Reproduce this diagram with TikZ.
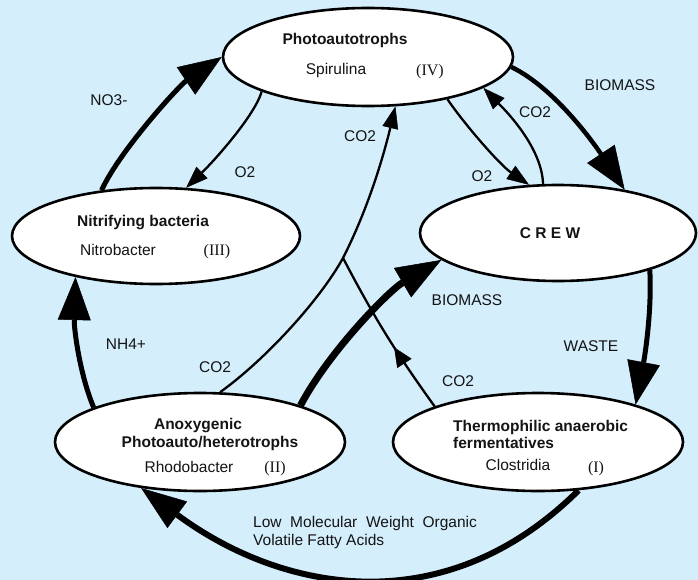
\documentclass[tikz,border=0pt]{standalone}
\usepackage{fontspec}
\setmainfont{Liberation Sans}
\newfontfamily\romanfont{Liberation Serif}
\usetikzlibrary{arrows.meta,shapes.geometric,decorations.markings}
\definecolor{bgblue}{RGB}{212,238,252}
\definecolor{ink}{RGB}{20,20,20}
\begin{document}
\begin{tikzpicture}[x=1pt,y=-1pt,
  org/.style={ellipse, draw=black, line width=2.6pt, fill=white, inner sep=0pt},
  txt/.style={inner sep=0pt, text height=11pt, text depth=0pt, text=ink, font=\fontsize{15.5}{18}\selectfont},
  ttl/.style={txt, font=\fontsize{15.5}{18}\selectfont\bfseries},
  rom/.style={txt, font=\fontsize{16}{18}\selectfont\romanfont},
  thinflow/.style={draw=black, line width=2.3pt, -{Triangle[length=22pt,width=16pt,line width=0.5pt]}},
  thickflow/.style={draw=black, line width=5pt, -{Triangle[length=43pt,width=33pt,line width=0.5pt]}},
  heavyflow/.style={draw=black, line width=7pt, -{Triangle[length=45pt,width=34pt,line width=0.5pt]}},
  midflow/.style={draw=black, line width=2.3pt, postaction={decorate},
    decoration={markings, mark=at position 0.41 with {\arrow{Triangle[length=19pt,width=17pt,line width=0.5pt]}}}}
]
\fill[bgblue] (0,0) rectangle (698,580);
\useasboundingbox (0,0) rectangle (698,580);

% organisms
\node[org, minimum width=290pt, minimum height=98pt] (P) at (368,57) {};
\node[org, minimum width=288pt, minimum height=96pt] (N) at (156,236) {};
\node[org, minimum width=276pt, minimum height=96pt] (C) at (558,233) {};
\node[org, minimum width=290pt, minimum height=98pt] (A) at (200,442) {};
\node[org, minimum width=290pt, minimum height=98pt] (T) at (538,442) {};

% texts inside
\node[ttl] (Pt) at (345,39) {Photoautotrophs};
\node[txt] (Ps) at (336,69) {Spirulina};
\node[rom] (Pr) at (430,70) {(IV)};
\node[ttl] (Nt) at (143,221) {Nitrifying bacteria};
\node[txt] (Ns) at (118,250) {Nitrobacter};
\node[rom] (Nr) at (217,250) {(III)};
\node[ttl] (Ct) at (550,233) {C\ R\ E\ W};
\node[ttl] (At1) at (198,424) {Anoxygenic};
\node[ttl] (At2) at (210,442) {Photoauto/heterotrophs};
\node[txt] (As) at (189,467) {Rhodobacter};
\node[rom] (Ar) at (275,467) {(II)};
\node[ttl, anchor=west] (Tt1) at (453,426) {Thermophilic anaerobic};
\node[ttl, anchor=west] (Tt2) at (453,443) {fermentatives};
\node[txt] (Ts) at (518,465) {Clostridia};
\node[rom] (Tr) at (596,467) {(I)};

% junction of the CO2 lines
\coordinate (J) at (343,258);

% connectors
\draw[thickflow] (N.140) .. controls (120,150) and (180,85) .. (P.180);
\draw[thinflow] (P.198) .. controls (255,115) and (215,160) .. (N.58);
\draw[thinflow] (A.68) .. controls (265,360) and (320,300) .. (J) .. controls (370,205) and (385,150) .. (P.299);
\draw[midflow] (T.161) to[bend left=4] (J);
\draw[heavyflow] (A.20) .. controls (330,350) and (390,290) .. (C.193);
\draw[thinflow] (P.332) .. controls (465,125) and (500,165) .. (C.121);
\draw[thinflow] (C.107) .. controls (542,145) and (500,105) .. (P.345);
\draw[draw=black, line width=4.5pt, -{Triangle[length=43pt,width=33pt,line width=0.5pt]}] (P.356) .. controls (555,88) and (595,145) .. (C.33);
\draw[thickflow] (C.338) .. controls (652,310) and (645,355) .. (T.21);
\draw[thickflow] (A.162) .. controls (80,375) and (74,330) .. (N.207);
\draw[draw=black, line width=6pt, -{Triangle[length=45pt,width=33pt,line width=0.5pt]}] (T.310) .. controls (445,623) and (283,593) .. (A.218);

% labels
\node[txt] (lNO) at (109,100) {NO3-};
\node[txt] (lO2a) at (245,172) {O2};
\node[txt] (lCO2a) at (360,136) {CO2};
\node[txt] (lCO2b) at (535,112) {CO2};
\node[txt] (lO2b) at (482,176) {O2};
\node[txt] (lBIOa) at (620,85) {BIOMASS};
\node[txt] (lBIOb) at (467,300) {BIOMASS};
\node[txt] (lWASTE) at (591,346) {WASTE};
\node[txt] (lCO2c) at (458,381) {CO2};
\node[txt] (lNH) at (126,344) {NH4+};
\node[txt] (lCO2d) at (215,367) {CO2};
\node[txt, anchor=west] (lLow1) at (253,522) {Low\ \ Molecular\ \ Weight\ \ Organic};
\node[txt, anchor=west] (lLow2) at (253,540) {Volatile Fatty Acids};
\end{tikzpicture}
\end{document}
